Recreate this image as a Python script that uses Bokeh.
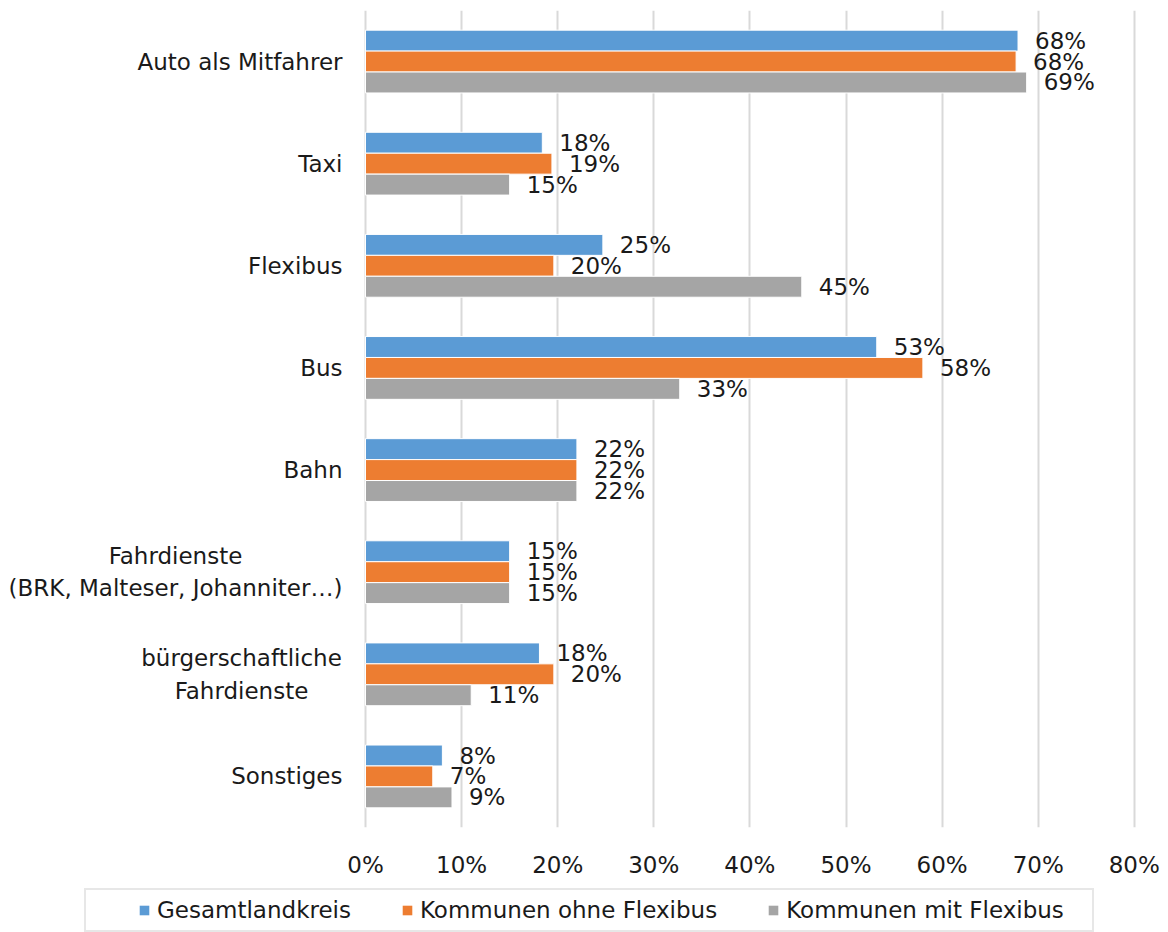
from bokeh.plotting import figure
from bokeh.layouts import column
from bokeh.models import (ColumnDataSource, FactorRange, Range1d, FixedTicker,
                          PrintfTickFormatter, Legend, LegendItem)
from bokeh.transform import dodge
from bokeh.core.properties import value
from bokeh.embed import file_html
from bokeh.resources import INLINE

# ---------------- data ----------------
categories = [
    "Auto als Mitfahrer",
    "Taxi",
    "Flexibus",
    "Bus",
    "Bahn",
    "Fahrdienste\n(BRK, Malteser, Johanniter…)",
    "bürgerschaftliche\nFahrdienste",
    "Sonstiges",
]
gesamtlandkreis = [67.9, 18.4, 24.7, 53.2, 22.0, 15.0, 18.1, 8.0]
ohne_flexibus = [67.7, 19.4, 19.6, 58.0, 22.0, 15.0, 19.6, 7.0]
mit_flexibus = [68.8, 15.0, 45.4, 32.7, 22.0, 15.0, 11.0, 9.0]
series_names = ["Gesamtlandkreis", "Kommunen ohne Flexibus", "Kommunen mit Flexibus"]
x_ticks = [0, 10, 20, 30, 40, 50, 60, 70, 80]

# ---------------- style ----------------
FONT = "DejaVu Sans"
FS = "23px"
TXT = "#1a1a1a"
colors = ["#5B9BD5", "#ED7D31", "#A5A5A5"]
offsets = [0.205, 0.0, -0.205]
W = 1168
H_MAIN, H_LEG = 880, 52
ZERO_PX = 365          # screen x of the 0 % line
PX_PER_UNIT = 9.61     # pixels per percentage point

def lbl(vals):
    return [f"{round(v)}%" for v in vals]

src = ColumnDataSource(dict(
    cat=categories,
    g=gesamtlandkreis, o=ohne_flexibus, m=mit_flexibus,
    g_lbl=lbl(gesamtlandkreis), o_lbl=lbl(ohne_flexibus), m_lbl=lbl(mit_flexibus),
))

x_start = -ZERO_PX / PX_PER_UNIT
x_end = (W - ZERO_PX) / PX_PER_UNIT

p = figure(width=W, height=H_MAIN,
           y_range=FactorRange(factors=categories[::-1]),
           x_range=Range1d(x_start, x_end),
           y_axis_location=None,
           output_backend="svg", toolbar_location=None,
           min_border_left=0, min_border_right=0,
           min_border_top=10, min_border_bottom=51)

p.outline_line_color = None
p.ygrid.visible = False
p.xgrid.grid_line_color = "#D9D9D9"
p.xgrid.grid_line_width = 2
p.xgrid.ticker = FixedTicker(ticks=x_ticks)

xa = p.xaxis[0]
xa.ticker = FixedTicker(ticks=x_ticks)
xa.formatter = PrintfTickFormatter(format="%d%%")
xa.axis_line_color = None
xa.major_tick_line_color = None
xa.minor_tick_line_color = None
xa.major_label_text_font = FONT
xa.major_label_text_font_size = FS
xa.major_label_text_color = TXT
xa.major_label_standoff = 18

for key, off, col in zip(["g", "o", "m"], offsets, colors):
    ypos = dodge("cat", off, range=p.y_range)
    p.hbar(y=ypos, left=0, right=key, height=0.205, source=src,
           fill_color=col, line_color="white", line_width=1)
    p.text(x=key, y=ypos, text=key + "_lbl", source=src,
           x_offset=17, text_align="left", text_baseline="middle",
           text_font=value(FONT), text_font_size=FS, text_color=TXT)

# category labels (multi-line ones centred within their block)
multi = ["\n" in c for c in categories]
cat_src = ColumnDataSource(dict(
    cat=categories,
    x0=[0] * len(categories),
    align=["center" if m else "right" for m in multi],
    xoff=[-190 if c.startswith("Fahrdienste") else (-124 if m else -23)
          for c, m in zip(categories, multi)],
))
p.text(x="x0", y="cat", text="cat", source=cat_src,
       x_offset="xoff", text_align="align", text_baseline="middle",
       text_font=value(FONT), text_font_size=FS, text_color=TXT,
       text_line_height=1.25)

# ---------------- legend strip ----------------
lf = figure(width=W, height=H_LEG, x_range=Range1d(0, 1), y_range=Range1d(0, 1),
            x_axis_location=None, y_axis_location=None,
            output_backend="svg", toolbar_location=None,
            min_border_left=0, min_border_right=0, min_border_top=0, min_border_bottom=0)
lf.outline_line_color = None
lf.grid.visible = False

items = []
for col, name in zip(colors, series_names):
    # zero-size bar: only provides the legend swatch colour
    r = lf.hbar(y=[0], left=[0], right=[0], height=0, fill_color=col, line_color=None)
    items.append(LegendItem(label=name, renderers=[r]))

legend_kw = dict(items=items, orientation="horizontal",
                 glyph_width=12, glyph_height=12, label_standoff=7, spacing=50,
                 margin=0,
                 label_text_font=FONT, label_text_font_size=FS, label_text_color=TXT,
                 border_line_color="#D0D0D0", border_line_width=2,
                 background_fill_alpha=1.0)
try:
    legend = Legend(padding=dict(left=52, right=28, top=7, bottom=7),
                    location=(84, 0), **legend_kw)
except Exception:
    legend = Legend(padding=7, location=(129, 0), **legend_kw)
lf.add_layout(legend)

layout = column(p, lf, spacing=0)
open("out.html", "w").write(file_html(layout, INLINE))
